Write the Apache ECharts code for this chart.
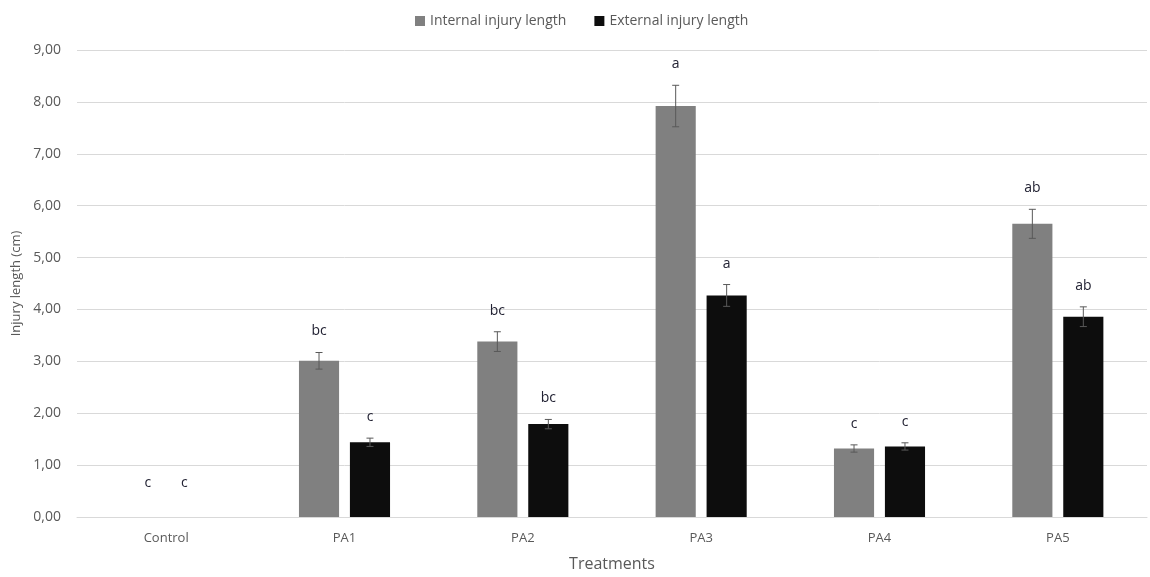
<!DOCTYPE html>
<html>
<head>
<meta charset="utf-8">
<script src="https://cdn.jsdelivr.net/npm/echarts@6/dist/echarts.min.js"></script>
<style>html,body{margin:0;padding:0;background:#fff;overflow:hidden}#c{width:1150px;height:577px}</style>
</head>
<body>
<div id="c"></div>
<script>
var categories = ['Control', 'PA1', 'PA2', 'PA3', 'PA4', 'PA5'];
var internalValues = [0, 3.01, 3.38, 7.92, 1.32, 5.65];
var internalErrors = [0, 0.16, 0.19, 0.40, 0.07, 0.28];
var internalLetters = ['c', 'bc', 'bc', 'a', 'c', 'ab'];
var externalValues = [0, 1.44, 1.79, 4.27, 1.36, 3.86];
var externalErrors = [0, 0.08, 0.09, 0.21, 0.07, 0.19];
var externalLetters = ['c', 'c', 'bc', 'a', 'c', 'ab'];
var yTickLabels = ['0,00', '1,00', '2,00', '3,00', '4,00', '5,00', '6,00', '7,00', '8,00', '9,00'];

var FONT = '"Open Sans", "Noto Sans", sans-serif';
var BAR_W = 0.225, GAP = 0.27;

function errSeries(values, errors, letters, side) {
  var data = values.map(function (v, i) { return [i, v, errors[i]]; });
  return {
    type: 'custom',
    silent: true,
    z: 5,
    data: data,
    encode: { x: 0, y: 1 },
    renderItem: function (params, api) {
      var i = api.value(0), v = api.value(1), e = api.value(2);
      var letter = letters[i];
      var band = api.size([1, 0])[0];
      var off = side * band * BAR_W * (1 + GAP) / 2;
      var base = api.coord([i, v]);
      var x = base[0] + off;
      var top = api.coord([i, v + e])[1];
      var bot = api.coord([i, v - e])[1];
      var children = [];
      if (e > 0) {
        var st = { stroke: '#595959', lineWidth: 1 };
        children.push({ type: 'line', shape: { x1: x, y1: top, x2: x, y2: bot }, style: st });
        children.push({ type: 'line', shape: { x1: x - 3.5, y1: top, x2: x + 3.5, y2: top }, style: st });
        children.push({ type: 'line', shape: { x1: x - 3.5, y1: bot, x2: x + 3.5, y2: bot }, style: st });
      }
      var ly = e > 0 ? top - 21 : base[1] - 34;
      if (e === 0) { x = base[0] + side * band * BAR_W * (1 + GAP) / 2.8; }
      children.push({
        type: 'text',
        style: { x: x, y: ly, text: letter, fill: '#222233', font: '14px ' + FONT, align: 'center', verticalAlign: 'middle' }
      });
      return { type: 'group', children: children };
    }
  };
}

var chart = echarts.init(document.getElementById('c'));
chart.setOption({
  animation: false,
  grid: { left: 77, right: 3, top: 50, bottom: 53, containLabel: false },
  legend: {
    top: 9, left: 410,
    itemWidth: 10, itemHeight: 10, itemGap: 28,
    icon: 'rect',
    textStyle: { color: '#595959', fontSize: 14, fontFamily: FONT },
    data: ['Internal injury length', 'External injury length']
  },
  xAxis: {
    type: 'category',
    data: categories,
    name: 'Treatments',
    nameLocation: 'middle',
    nameGap: 39,
    nameTextStyle: { color: '#595959', fontSize: 16, fontFamily: FONT },
    axisLine: { lineStyle: { color: '#d9d9d9' } },
    axisTick: { show: false },
    axisLabel: { color: '#595959', fontSize: 13, fontFamily: FONT, margin: 15 }
  },
  yAxis: {
    type: 'value',
    min: 0, max: 9, interval: 1,
    name: 'Injury length (cm)',
    nameLocation: 'middle',
    nameGap: 49,
    nameTextStyle: { color: '#595959', fontSize: 13, fontFamily: FONT },
    axisLine: { show: false },
    axisTick: { show: false },
    splitLine: { lineStyle: { color: '#d9d9d9' } },
    axisLabel: {
      color: '#595959', fontSize: 14, fontFamily: FONT, margin: 16,
      formatter: function (v) { return yTickLabels[Math.round(v)]; }
    }
  },
  series: [
    {
      name: 'Internal injury length', type: 'bar', data: internalValues,
      barWidth: (BAR_W * 100) + '%', barGap: (GAP * 100) + '%',
      itemStyle: { color: '#808080' }
    },
    {
      name: 'External injury length', type: 'bar', data: externalValues,
      barWidth: (BAR_W * 100) + '%', barGap: (GAP * 100) + '%',
      itemStyle: { color: '#0d0d0d' }
    },
    errSeries(internalValues, internalErrors, internalLetters, -1),
    errSeries(externalValues, externalErrors, externalLetters, 1)
  ]
});
</script>
</body>
</html>
